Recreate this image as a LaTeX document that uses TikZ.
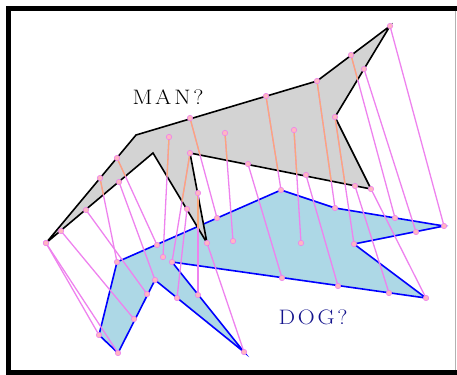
\documentclass[tikz,border=0pt]{standalone}
\usepackage{tikz}
\definecolor{corrviolet}{RGB}{238,130,238}
\definecolor{corrpeach}{RGB}{250,168,122}
\definecolor{ptfill}{RGB}{255,182,193}
\definecolor{dogfill}{RGB}{173,216,230}
\definecolor{mangray}{RGB}{211,211,211}
\definecolor{dogtext}{RGB}{20,20,140}
\tikzset{
  manpoly/.style={fill=mangray, draw=black, line width=1.6bp, line join=miter},
  dogpoly/.style={fill=dogfill, draw=blue, line width=1.6bp, line join=miter},
  corr/.style={draw=corrviolet, line width=1.3bp},
  corrin/.style={draw=corrpeach, line width=1.3bp},
  ptmark/.style={circle, fill=ptfill, draw=corrviolet, line width=0.6bp, inner sep=0pt, minimum size=5.4bp},
  frameline/.style={draw=black, line width=5bp, line join=miter},
  labeltext/.style={xscale=1.12, inner sep=0pt, font=\fontsize{21}{25}\selectfont},
}
\begin{document}
\begin{tikzpicture}[x=1bp,y=-1bp]
\useasboundingbox (0,0) rectangle (457,374);
% polygon vertices
\coordinate (M1) at (46,243);
\coordinate (M2) at (136,135);
\coordinate (M3) at (317,81);
\coordinate (M4) at (390,26);
\coordinate (M5) at (335,117);
\coordinate (M6) at (371,189);
\coordinate (M7) at (190,153);
\coordinate (M8) at (207,243);
\coordinate (M9) at (153,153);
\coordinate (D1) at (117,262);
\coordinate (D2) at (281,190);
\coordinate (D3) at (335,208);
\coordinate (D4) at (444,226);
\coordinate (D5) at (354,244);
\coordinate (D6) at (426,298);
\coordinate (D7) at (172,262);
\coordinate (D8) at (244,352);
\coordinate (D9) at (155,280);
\coordinate (D10) at (118,353);
\coordinate (D11) at (99,335);
% correspondences
\foreach \i/\ax/\ay/\bx/\by in {
  1/46/243/99/335, 2/46/243/118/353, 3/100/178/117/262, 4/117/158/157/245,
  5/190/118/217/218, 6/266/96/281/190, 7/317/81/335/208, 8/351/55/395/218,
  9/390/26/444/226, 10/364/69/416/232, 11/335/117/354/244, 12/371/189/426/298,
  13/355/186/389/293, 14/306/175/338/286, 15/248/164/282/278, 16/190/153/172/262,
  17/198/193/198/295, 18/207/243/244/352, 19/187/209/177/298, 20/119/182/155/280,
  21/86/210/147/294, 22/61/231/134/319, 23/169/137/163/257, 24/225/133/233/241,
  25/294/130/301/243}{
  \coordinate (m\i) at (\ax,\ay);
  \coordinate (d\i) at (\bx,\by);
}
% frame
\draw[frameline] (470,8) -- (8.5,8) -- (8.5,372.5) -- (470,372.5);
\draw[gray!60, line width=0.8bp] (455.5,10.5) -- (455.5,370);
% shapes
\draw[dogpoly] (D1) -- (D2) -- (D3) -- (D4) -- (D5) -- (D6) -- (D7) -- (D8) -- (D9) -- (D10) -- (D11) -- cycle;
\draw[manpoly] (M1) -- (M2) -- (M3) -- (M4) -- (M5) -- (M6) -- (M7) -- (M8) -- (M9) -- cycle;
% connectors
\foreach \i in {1,...,25} { \draw[corr] (m\i) -- (d\i); }
\begin{scope}
  \clip (M1) -- (M2) -- (M3) -- (M4) -- (M5) -- (M6) -- (M7) -- (M8) -- (M9) -- cycle;
  \foreach \i in {1,...,25} { \draw[corrin] (m\i) -- (d\i); }
\end{scope}
\foreach \i in {1,...,25} {
  \node[ptmark] (pm\i) at (m\i) {};
  \node[ptmark] (pd\i) at (d\i) {};
}
% labels
\node[labeltext, text=black] (mantext) at (168,97) {M\kern2.5bp A\kern2.5bp N\kern2.5bp ?};
\node[labeltext, text=dogtext] (dogtext) at (313,317) {D\kern2.5bp O\kern2.5bp G\kern2.5bp ?};
\end{tikzpicture}
\end{document}
